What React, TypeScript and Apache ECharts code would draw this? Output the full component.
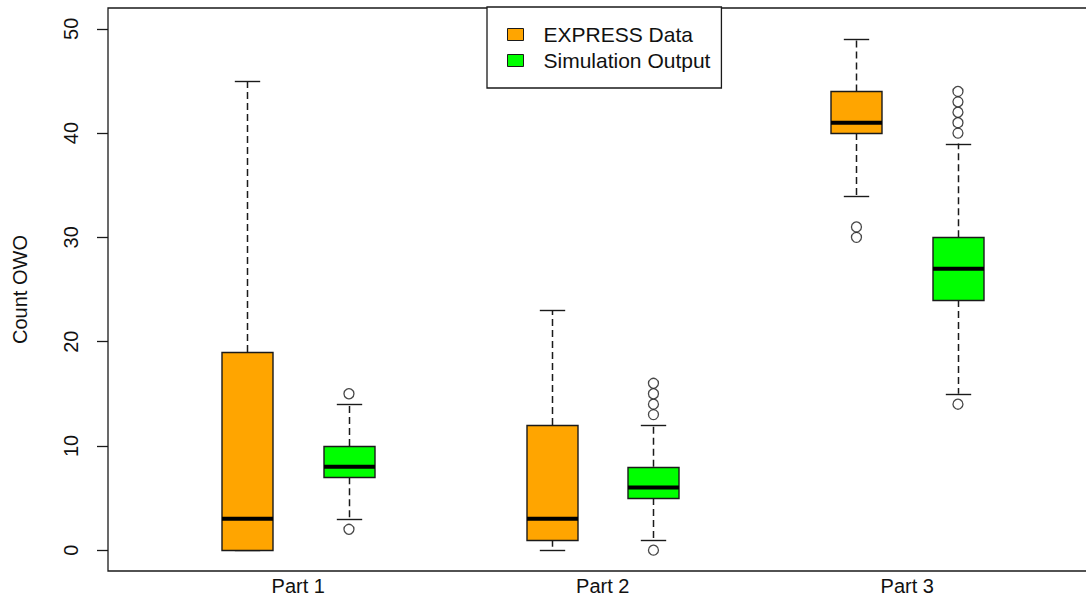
import React, { useEffect, useRef } from "react";
import * as echarts from "echarts";

// Box statistics per part: [lower whisker, Q1, median, Q3, upper whisker]
const parts = ["Part 1", "Part 2", "Part 3"];
const expressStats = [
  [0, 0, 3, 19, 45],
  [0, 1, 3, 12, 23],
  [34, 40, 41, 44, 49],
];
const simulationStats = [
  [3, 7, 8, 10, 14],
  [1, 5, 6, 8, 12],
  [15, 24, 27, 30, 39],
];
const expressOutliers = [[], [], [30, 31]];
const simulationOutliers = [
  [2, 15],
  [0, 13, 14, 15, 16],
  [14, 40, 41, 42, 43, 44],
];
const yTicks = [0, 10, 20, 30, 40, 50];

const seriesNames = ["EXPRESS Data", "Simulation Output"];
const fills = ["#FFA500", "#00FF00"];
const FONT = "'Liberation Sans', Arial, sans-serif";
const INK = "#1a1a1a";

// Each part occupies three slots on the x scale: two boxes and a gap.
const groupCenter = (i: number) => 1.5 + 3 * i;
const boxPos = (i: number, s: number) => groupCenter(i) + (s === 0 ? -0.5 : 0.5);
const BOX_W = 0.5;

function renderBox(params: any, api: any) {
  const x = api.value(0);
  const [low, q1, med, q3, high] = [1, 2, 3, 4, 5].map((k) => api.value(k));
  const w = api.size([BOX_W, 0])[0];
  const hw = w / 2;
  const cw = w / 4;
  const p = (v: number) => api.coord([x, v]);
  const pLow = p(low), pQ1 = p(q1), pMed = p(med), pQ3 = p(q3), pHigh = p(high);
  const cx = Math.round(pMed[0]) + 0.5;
  const dashed = { stroke: INK, lineWidth: 1.5, lineDash: [7, 4] };
  const solid = { stroke: INK, lineWidth: 1.4 };
  const snap = (y: number) => Math.round(y) + 0.5;
  const left = Math.round(cx - hw);
  const width = Math.round(w);
  return {
    type: "group",
    children: [
      { type: "line", shape: { x1: cx, y1: pQ3[1], x2: cx, y2: pHigh[1] }, style: dashed },
      { type: "line", shape: { x1: cx, y1: pQ1[1], x2: cx, y2: pLow[1] }, style: dashed },
      { type: "line", shape: { x1: cx - cw, y1: snap(pHigh[1]), x2: cx + cw, y2: snap(pHigh[1]) }, style: solid },
      { type: "line", shape: { x1: cx - cw, y1: snap(pLow[1]), x2: cx + cw, y2: snap(pLow[1]) }, style: solid },
      {
        type: "rect",
        shape: { x: left, y: snap(pQ3[1]), width, height: Math.round(pQ1[1] - pQ3[1]) },
        style: { fill: api.visual("color"), stroke: INK, lineWidth: 1.4 },
      },
      { type: "line", shape: { x1: left, y1: pMed[1], x2: left + width, y2: pMed[1] }, style: { stroke: "#000", lineWidth: 4 } },
    ],
  };
}

export default function App() {
  const ref = useRef<HTMLDivElement>(null);

  useEffect(() => {
    if (!ref.current) return;
    const chart = echarts.init(ref.current, undefined, { renderer: "svg" });

    const stats = [expressStats, simulationStats];
    const outliers = [expressOutliers, simulationOutliers];

    const boxSeries = seriesNames.map((name, s) => ({
      name,
      type: "custom",
      renderItem: renderBox,
      itemStyle: { color: fills[s], borderColor: INK, borderWidth: 1 },
      encode: { x: 0, y: [1, 2, 3, 4, 5] },
      data: stats[s].map((row, i) => [boxPos(i, s), ...row]),
      z: 2,
    }));

    const outlierSeries = seriesNames.map((name, s) => ({
      name: name + " outliers",
      type: "scatter",
      symbol: "circle",
      symbolSize: 10,
      itemStyle: { color: "#fff", borderColor: INK, borderWidth: 1.3 },
      data: outliers[s].flatMap((vals, i) => vals.map((v) => [boxPos(i, s), v])),
      z: 3,
    }));

    chart.setOption({
      animation: false,
      backgroundColor: "#fff",
      textStyle: { fontFamily: FONT },
      grid: {
        left: 108,
        top: 8,
        width: 990,
        height: 563,
        outerBoundsMode: "none",
        containLabel: false,
        show: true,
        borderColor: INK,
        borderWidth: 1.3,
        backgroundColor: "transparent",
      },
      legend: {
        data: seriesNames,
        left: 487,
        top: 7,
        orient: "vertical",
        backgroundColor: "#fff",
        borderColor: INK,
        borderWidth: 1.3,
        padding: [17, 11, 17, 20],
        itemWidth: 16,
        itemHeight: 12,
        itemGap: 5,
        icon: "rect",
        itemStyle: { borderColor: INK, borderWidth: 1 },
        textStyle: { fontFamily: FONT, fontSize: 21, color: "#111", padding: [0, 0, 0, 15] },
        selectedMode: false,
        z: 10,
      },
      xAxis: {
        type: "value",
        min: -0.374,
        max: -0.374 + 990 / 101.5,
        axisLine: { show: false, onZero: false },
        axisTick: { show: false },
        splitLine: { show: false },
        axisLabel: {
          customValues: parts.map((_, i) => groupCenter(i)),
          formatter: (v: number) => parts[Math.round((v - 1.5) / 3)],
          fontFamily: FONT,
          fontSize: 20,
          color: "#111",
          margin: 5,
        },
      },
      yAxis: {
        type: "value",
        min: -2,
        max: 52,
        name: "Count OWO",
        nameLocation: "middle",
        nameGap: 78,
        nameTextStyle: { fontFamily: FONT, fontSize: 20, color: "#111" },
        axisLine: { show: false, onZero: false },
        splitLine: { show: false },
        axisTick: {
          show: true,
          customValues: yTicks,
          length: 11,
          lineStyle: { color: INK, width: 1.3 },
        },
        axisLabel: {
          customValues: yTicks,
          rotate: 90,
          fontFamily: FONT,
          fontSize: 20,
          color: "#111",
          margin: 27,
        },
      },
      series: [...boxSeries, ...outlierSeries],
    });

    return () => chart.dispose();
  }, []);

  return (
    <div
      ref={ref}
      style={{ position: "fixed", left: 0, top: 0, width: 1086, height: 600, background: "#fff" }}
    />
  );
}
